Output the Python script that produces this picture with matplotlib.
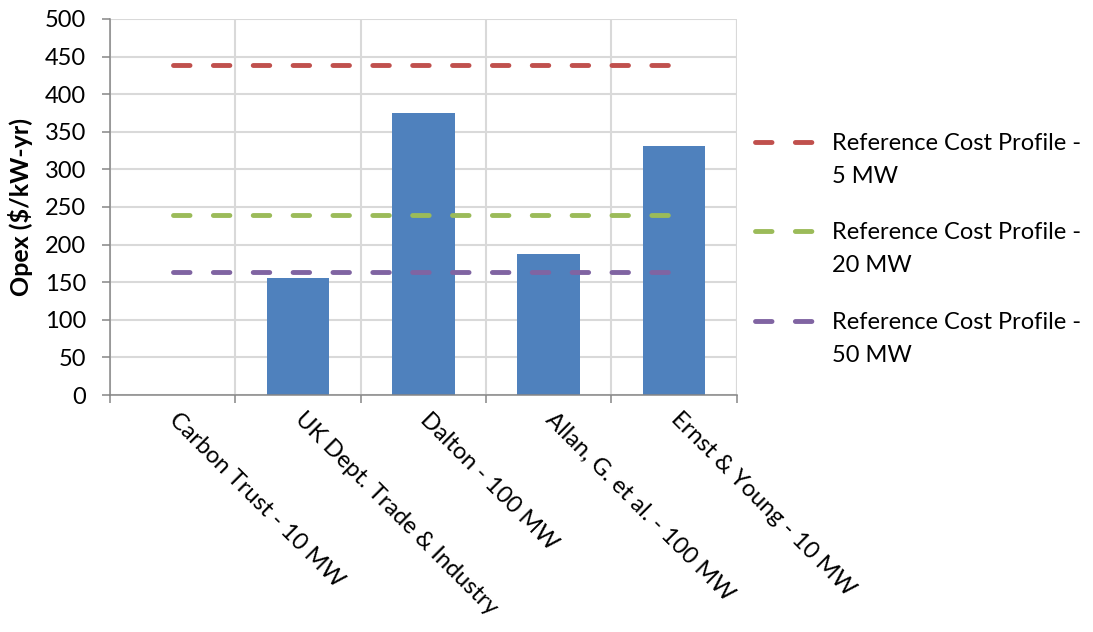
import matplotlib
matplotlib.use("Agg")
import matplotlib.pyplot as plt
from matplotlib.legend_handler import HandlerLine2D
import numpy as np

categories = ["Carbon Trust - 10 MW", "UK Dept. Trade & Industry", "Dalton - 100 MW",
              "Allan, G. et al. - 100 MW", "Ernst & Young - 10 MW"]
opex = [0, 155, 375, 187, 331]
ref_labels = ["Reference Cost Profile -\n5 MW", "Reference Cost Profile -\n20 MW",
              "Reference Cost Profile -\n50 MW"]
ref_values = [439, 239, 163]
ref_colors = ["#C0504D", "#9BBB59", "#8064A2"]
yticks = list(range(0, 501, 50))

plt.rcParams['font.family'] = ['Lato', 'DejaVu Sans']
FS = 17


class HandlerUp(HandlerLine2D):
    def __init__(self, shift, **kw):
        super().__init__(**kw)
        self.shift = shift

    def create_artists(self, legend, orig_handle, xdescent, ydescent, width, height,
                       fontsize, trans):
        arts = super().create_artists(legend, orig_handle, xdescent, ydescent, width,
                                      height, fontsize, trans)
        for a in arts:
            a.set_ydata(np.asarray(a.get_ydata()) + self.shift)
        return arts


fig = plt.figure(figsize=(10.93, 6.32), dpi=100)
ax = fig.add_axes([0.1006, 0.375, 0.674 - 0.1006, 0.970 - 0.375])

x = np.arange(len(categories))
ax.bar(x, opex, width=0.5, color="#4F81BD", zorder=2)

lines = []
for v, c, lab in zip(ref_values, ref_colors, ref_labels):
    ln, = ax.plot([x[0], x[-1]], [v, v], color=c, lw=3.5, linestyle=(0, (3.4, 4.8)),
                  dash_capstyle='round', label=lab, zorder=3)
    lines.append(ln)

ax.set_xlim(-0.5, len(categories) - 0.5)
ax.set_ylim(0, 500)
ax.set_yticks(yticks)
ax.set_xticks(np.arange(len(categories) + 1) - 0.5)
ax.set_xticklabels([])
ax.tick_params(axis='x', direction='out', length=6, color='#868686', width=1.1)
ax.tick_params(axis='y', direction='out', length=6, color='#868686', width=1.1,
               labelsize=FS, pad=11)
ax.grid(True, color='#D9D9D9', lw=1.5, zorder=0)
ax.set_axisbelow(True)
for s in ['top', 'right']:
    ax.spines[s].set_visible(False)
for s in ['left', 'bottom']:
    ax.spines[s].set_color('#868686')
    ax.spines[s].set_linewidth(1.1)
ax.axvline(len(categories) - 0.5, color='#D9D9D9', lw=1.5, zorder=0)

for xi, lab in zip(x, categories):
    ax.text(xi + 0.06, -18, lab, rotation=-45, rotation_mode='anchor',
            ha='left', va='top', fontsize=FS)

ax.set_ylabel("Opex ($/kW-yr)", fontsize=FS + 1, fontweight='bold')
ax.yaxis.set_label_coords(-0.123, 0.5)

hmap = {ln: HandlerUp(13.0) for ln in lines}
leg = fig.legend(handles=lines, labels=ref_labels, loc='upper left',
                 bbox_to_anchor=(755 / 1093, 1 - 133 / 632), frameon=False,
                 fontsize=FS, handlelength=2.67, handletextpad=0.6,
                 labelspacing=1.5, borderpad=0, borderaxespad=0, handler_map=hmap)
for t in leg.get_texts():
    t.set_linespacing(1.7)

fig.savefig("out.png", dpi=100)
